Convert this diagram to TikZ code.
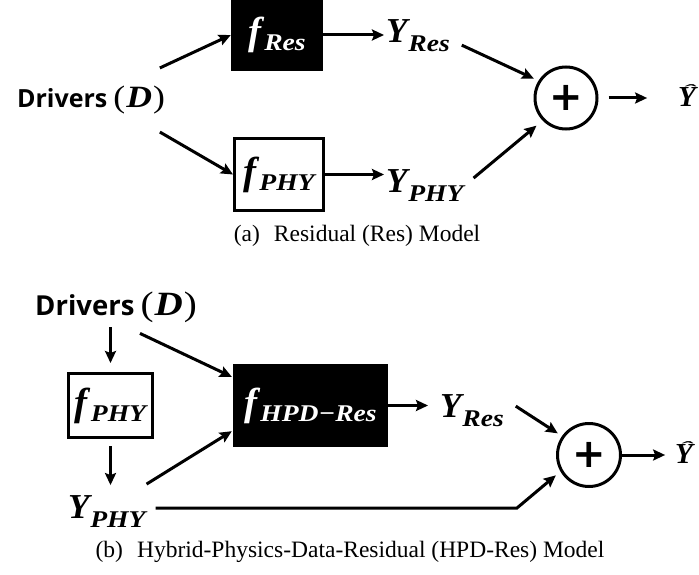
\documentclass[tikz,border=0pt]{standalone}
\usepackage{fontspec}
\usepackage{graphicx}
\setmainfont{Liberation Serif}
\newfontfamily\drvfont{Open Sans}
\newfontfamily\mfont{Liberation Serif}
\newfontfamily\sfont{Liberation Serif}[FakeStretch=1.15]
\newfontfamily\plusfont{DejaVu Sans}
\usetikzlibrary{arrows.meta,calc}

\newcommand\symY[1]{{\mfont\bfseries\itshape\fontsize{35}{35}\selectfont Y}\kern1pt\raisebox{-9pt}{\sfont\bfseries\itshape\fontsize{24}{24}\selectfont #1}}
\newcommand\symF[1]{{\mfont\bfseries\itshape\fontsize{39}{39}\selectfont f}\kern3pt\raisebox{-6pt}{\sfont\bfseries\itshape\fontsize{24}{24}\selectfont #1}}
\newcommand\drvtext[2]{{\drvfont\bfseries\fontsize{#1}{#1}\selectfont Drivers}\hspace{6pt}{\sfont\fontsize{#2}{#2}\selectfont (\kern1pt\textbf{\textit{D}}\kern1pt)}}
\newcommand\yhattext{{\mfont\bfseries\itshape\fontsize{29}{29}\selectfont\ooalign{Y\cr\hidewidth\kern4pt\raisebox{12pt}{\scalebox{2.6}[1]{\fontsize{14}{14}\selectfont ˆ}}\hidewidth\cr}}}
\newcommand\plustext{{\plusfont\bfseries\fontsize{40}{40}\selectfont +}}

\tikzset{
  arr/.style={line width=3pt, -{Stealth[length=12pt,width=11pt,inset=2pt]}},
  blackbox/.style={fill=black, text=white, inner sep=0pt},
  whitebox/.style={draw=black, line width=3pt, fill=white, inner sep=0pt},
  lbl/.style={inner sep=0pt, outer sep=0pt},
  sumnode/.style={circle, draw=black, line width=3pt, inner sep=0pt},
  captext/.style={inner sep=0pt, font=\fontsize{23.5}{23.5}\selectfont},
}

\begin{document}
\begin{tikzpicture}[x=1pt,y=-1pt]
\useasboundingbox (0,0) rectangle (699,575);

% ---------- (a) ----------
\node[lbl] (drv) at (91,100) {\drvtext{25}{31}};
\node[blackbox, minimum width=92pt, minimum height=72pt] (fres) at (277,35) {\symF{Res}};
\node[whitebox, minimum width=89pt, minimum height=72pt] (fphy) at (279,174.5) {\symF{PHY}};
\node[lbl, anchor=base west] (yres) at (386,43) {\symY{Res}};
\node[lbl, anchor=base west] (yphy) at (386,193) {\symY{PHY}};
\node[sumnode, minimum size=62pt] (plus) at (566,98) {\plustext};
\node[lbl, anchor=base] (yhat) at (687,107) {\yhattext};
\node[captext, anchor=base] (capa) at (357,241) {(a)\hspace{0.6em}Residual (Res) Model};

\draw[arr] ([shift={(-5,-18)}]drv.north east) -- (fres.west);
\draw[arr] ([shift={(-5,18)}]drv.south east) -- (fphy.west);
\draw[arr, shorten >=2pt] (fres.east) -- (fres.east -| yres.west);
\draw[arr, shorten >=2pt] (fphy.east) -- (fphy.east -| yphy.west);
\draw[arr, shorten >=5pt] ([shift={(12,9)}]yres.east) -- (plus.148);
\draw[arr, shorten >=8pt] ([shift={(10,-8)}]yphy.east) -- (plus.224);
\draw[arr, shorten <=10pt, shorten >=31pt] (plus.east) -- (plus.east -| yhat.west);

% ---------- (b) ----------
\node[lbl] (drv2) at (116,307) {\drvtext{27.5}{34}};
\node[whitebox, minimum width=84pt, minimum height=64pt] (fphy2) at (110.5,405.5) {\symF{PHY}};
\node[lbl, anchor=base west] (yphy2) at (68,518) {\symY{PHY}};
\node[blackbox, minimum width=155pt, minimum height=83pt] (fhpd) at (310.5,405.5) {\symF{HPD−Res}};
\node[lbl, anchor=base west] (yres2) at (440,417) {\symY{Res}};
\node[sumnode, minimum size=63pt] (plus2) at (589,455) {\plustext};
\node[lbl, anchor=base] (yhat2) at (684,463) {\yhattext};
\node[captext, anchor=base] (capb) at (350,557) {(b)\hspace{0.6em}Hybrid-Physics-Data-Residual (HPD-Res) Model};
\coordinate (bend) at (517,508);

\draw[arr, shorten <=5pt, shorten >=9pt] (drv2.south -| fphy2.north) -- (fphy2.north);
\draw[arr, shorten <=7pt, shorten >=10pt] (fphy2.south) -- (fphy2.south |- yphy2.north);
\draw[arr] ([shift={(24,11)}]drv2.south) -- ([shift={(-1,13)}]fhpd.north west);
\draw[arr] ([shift={(1,-11)}]yphy2.north east) -- ([shift={(-1,-16)}]fhpd.south west);
\draw[arr, shorten >=12pt] (fhpd.east) -- (fhpd.east -| yres2.west);
\draw[arr, shorten >=5pt] ([shift={(12,-4)}]yres2.east) -- (plus2.145);
\draw[arr, shorten >=6pt] ([xshift=10pt]yphy2.east |- bend) -- (bend) -- (plus2.210);
\draw[arr, shorten >=10pt] (plus2.east) -- (plus2.east -| yhat2.west);
\end{tikzpicture}
\end{document}
